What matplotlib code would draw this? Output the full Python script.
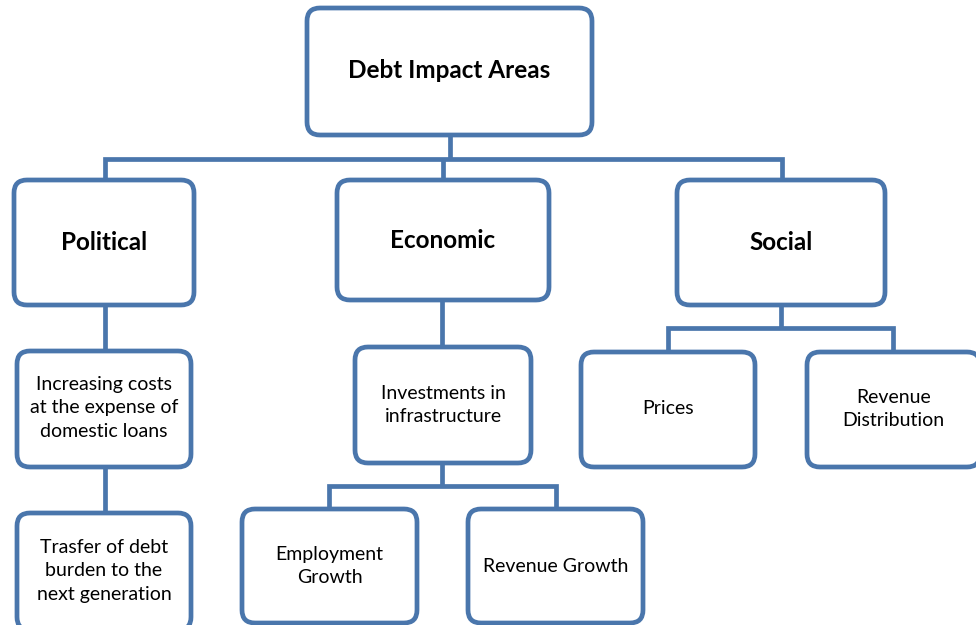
import matplotlib
matplotlib.use("Agg")
import matplotlib.pyplot as plt
from matplotlib.patches import FancyBboxPatch

# ---- content ----
root_label = "Debt Impact Areas"
area_labels = ["Political", "Economic", "Social"]
political_items = ["Increasing costs\nat the expense of\ndomestic loans",
                   "Trasfer of debt\nburden to the\nnext generation"]
economic_items = ["Investments in\ninfrastructure"]
economic_sub = ["Employment\nGrowth", "Revenue Growth"]
social_items = ["Prices", "Revenue\nDistribution"]

# ---- layout (pixel coords: x0, y0, x1, y1; y downwards) ----
W, H = 976, 625
EDGE = "#4a76ac"
LW = 3.4

fig = plt.figure(figsize=(W / 100, H / 100), dpi=100)
ax = fig.add_axes([0, 0, 1, 1])
ax.set_xlim(0, W)
ax.set_ylim(H, 0)
ax.axis("off")

FONT = ["Lato", "DejaVu Sans"]


def box(x0, y0, x1, y1, text, bold=False, size=14, ty=None):
    p = FancyBboxPatch((x0, y0), x1 - x0, y1 - y0,
                       boxstyle="round,pad=0,rounding_size=13",
                       facecolor="white", edgecolor=EDGE, linewidth=LW,
                       zorder=3, clip_on=False)
    ax.add_patch(p)
    cy = (y0 + y1) / 2 if ty is None else ty
    ax.text((x0 + x1) / 2, cy, text, ha="center", va="center",
            fontsize=size, fontweight="bold" if bold else "normal",
            family=FONT, linespacing=1.46, zorder=4, color="black")


def line(xs, ys):
    ax.plot(xs, ys, color=EDGE, linewidth=LW, solid_capstyle="butt",
            solid_joinstyle="miter", zorder=2)


# connectors
line([450, 450], [135, 159])
line([105, 105, 782, 782], [181, 159, 159, 181])
line([443, 443], [159, 181])
line([105, 105], [305, 513])
line([442, 442], [300, 347])
line([442, 442], [463, 486])
line([329, 329, 556, 556], [510, 486, 486, 510])
line([781, 781], [305, 328])
line([668, 668, 893, 893], [352, 328, 328, 352])

# boxes
B = 17.5
box(307, 8, 592, 135, root_label, bold=True, size=B, ty=71)
box(14, 180, 194, 305, area_labels[0], bold=True, size=B, ty=243)
box(337, 180, 549, 300, area_labels[1], bold=True, size=B, ty=241)
box(677, 180, 885, 305, area_labels[2], bold=True, size=B, ty=243)

box(17, 351, 191, 467, political_items[0], ty=408)
box(17, 513, 191, 630, political_items[1], ty=571)

box(355, 347, 531, 463, economic_items[0], ty=405)
box(242, 509, 417, 623, economic_sub[0], ty=566)
box(468, 509, 643, 623, economic_sub[1], ty=566)

box(581, 352, 755, 467, social_items[0], ty=408)
box(807, 352, 980, 467, social_items[1], ty=409)

fig.savefig("out.png", dpi=100, facecolor="white")
